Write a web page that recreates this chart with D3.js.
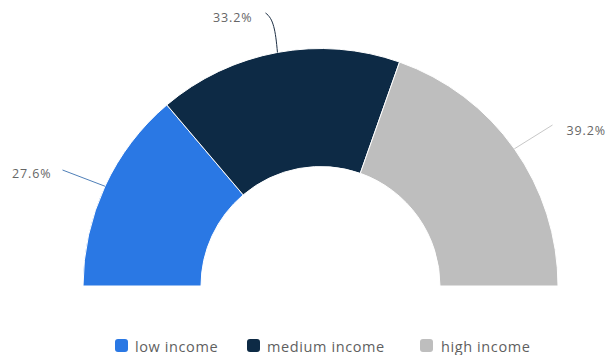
<!DOCTYPE html>
<html>
<head>
<meta charset="utf-8">
<script src="https://cdn.jsdelivr.net/npm/d3@7"></script>
<style>
  html, body { margin: 0; padding: 0; background: #fff; }
  svg { display: block; }
  text { font-family: "Open Sans", "Noto Sans", sans-serif; }
</style>
</head>
<body>
<svg id="chart" width="609" height="355"></svg>
<script>
// Share of households by income group (percent)
const categories = ["low income", "medium income", "high income"];
const shares = [27.6, 33.2, 39.2];
const labels = ["27.6%", "33.2%", "39.2%"];
const colors = ["#2a78e4", "#0d2a45", "#bebebe"];

const width = 609, height = 355;
const cx = 320.5, cy = 286;
const outerR = 237.5, innerR = 119.5;

const svg = d3.select("#chart");
const g = svg.append("g").attr("transform", `translate(${cx},${cy})`);

const pie = d3.pie()
  .sort(null)
  .startAngle(-Math.PI / 2)
  .endAngle(Math.PI / 2)
  .value(d => d);

const arcs = pie(shares);

const arc = d3.arc().innerRadius(innerR).outerRadius(outerR);

g.selectAll("path.slice")
  .data(arcs)
  .join("path")
  .attr("class", "slice")
  .attr("d", arc)
  .attr("fill", (d, i) => colors[i])
  .attr("stroke", "#fff")
  .attr("stroke-width", 1);

// Data labels with connectors, placed around the outer edge
const labelPos = [
  { x: -269, y: -113, anchor: "end", elbow: [-258, -116] },
  { x: -68, y: -269, anchor: "end", elbow: [-55, -273] },
  { x: 246, y: -156, anchor: "start", elbow: [232, -161] }
];
const connectorColors = ["#4f7fb8", "#1d2f44", "#c8c8c8"];

arcs.forEach((d, i) => {
  const mid = (d.startAngle + d.endAngle) / 2;
  const px = outerR * Math.sin(mid);
  const py = -outerR * Math.cos(mid);
  const p = labelPos[i];
  let path;
  if (i === 1) {
    path = `M${px},${py} C${px - 2},${py - 22} ${px - 4},${py - 34} ${p.elbow[0]},${p.elbow[1]}`;
  } else {
    path = `M${px},${py} L${p.elbow[0]},${p.elbow[1]}`;
  }
  g.append("path")
    .attr("d", path)
    .attr("fill", "none")
    .attr("stroke", connectorColors[i])
    .attr("stroke-width", 1);
  g.append("text")
    .attr("x", p.x)
    .attr("y", p.y)
    .attr("text-anchor", p.anchor)
    .attr("dominant-baseline", "central")
    .attr("font-size", 12.5)
    .attr("letter-spacing", 0.9)
    .attr("fill", "#666")
    .text(labels[i]);
});

// Legend
const legendItems = [
  { x: 115, tx: 135 },
  { x: 247, tx: 267 },
  { x: 420, tx: 441 }
];
const legend = svg.append("g");
categories.forEach((c, i) => {
  const it = legendItems[i];
  legend.append("rect")
    .attr("x", it.x).attr("y", 339)
    .attr("width", 13).attr("height", 13)
    .attr("rx", 3)
    .attr("fill", colors[i]);
  legend.append("text")
    .attr("x", it.tx).attr("y", 346)
    .attr("dominant-baseline", "central")
    .attr("font-size", 14.5)
    .attr("letter-spacing", 0.6)
    .attr("fill", "#5f5f5f")
    .text(c);
});
</script>
</body>
</html>
